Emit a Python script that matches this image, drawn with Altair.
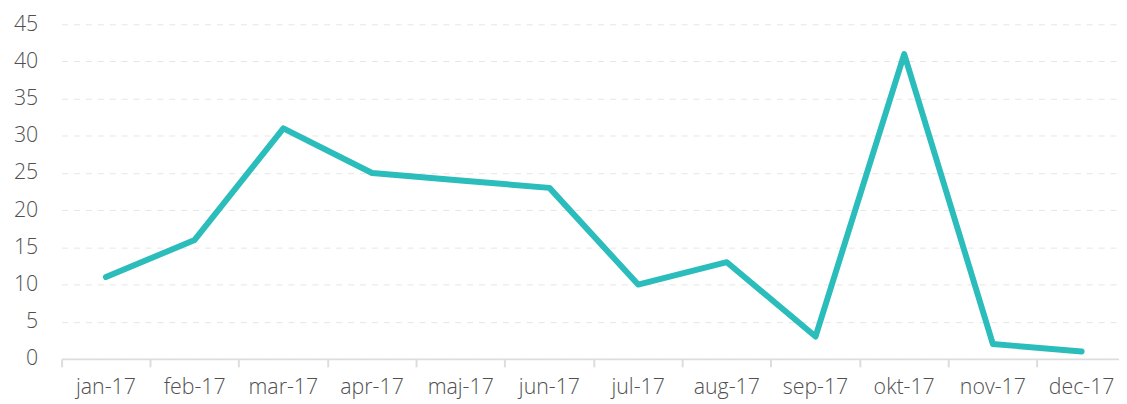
import altair as alt
import pandas as pd

months = ["jan-17", "feb-17", "mar-17", "apr-17", "maj-17", "jun-17",
          "jul-17", "aug-17", "sep-17", "okt-17", "nov-17", "dec-17"]
values = [11, 16, 31, 25, 24, 23, 10, 13, 3, 41, 2, 1]

df = pd.DataFrame({"month": months, "value": values})

chart = alt.Chart(df).mark_line(
    color="#2bbdbb", strokeWidth=6, strokeCap="round", strokeJoin="round"
).encode(
    x=alt.X("month:N", sort=months, title=None,
            scale=alt.Scale(type="band", paddingInner=0, paddingOuter=0),
            axis=alt.Axis(labelAngle=0, bandPosition=0, grid=False,
                          domainColor="#dddddd", domainWidth=2,
                          tickColor="#dddddd", tickWidth=2, tickSize=8,
                          labelFontSize=21.5, labelColor="#505050",
                          labelPadding=10, labelFont="Open Sans",
                          labelFontWeight=300)),
    y=alt.Y("value:Q", title=None,
            scale=alt.Scale(domain=[0, 45], nice=False),
            axis=alt.Axis(values=list(range(0, 50, 5)), domain=False, ticks=False,
                          grid=True, gridColor="#e6e6e6", gridDash=[6, 6],
                          gridWidth=1,
                          labelFontSize=21.5, labelColor="#505050",
                          labelPadding=24, labelFont="Open Sans",
                          labelFontWeight=300))
).properties(
    width=1072, height=337,
    autosize=alt.AutoSizeParams(type="none"),
    padding={"left": 54, "top": 15, "right": -7, "bottom": 40}
).configure_view(stroke=None)

chart.save("out.html", embed_options={"renderer": "svg", "actions": False})
